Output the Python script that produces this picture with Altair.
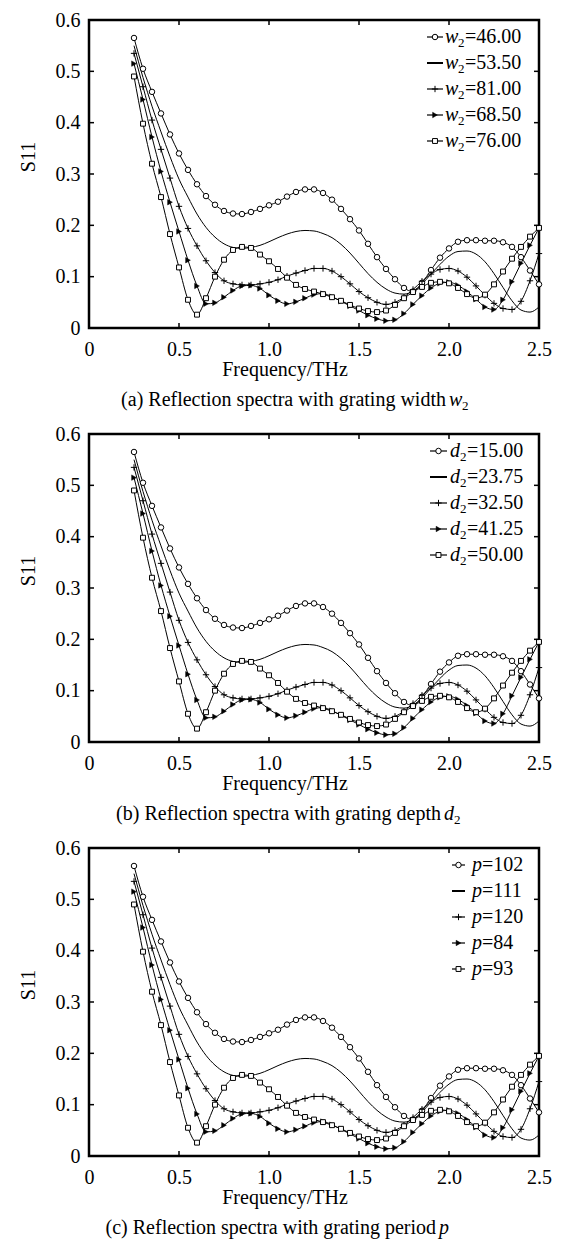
import altair as alt
import pandas as pd

# ---------------- data ----------------
freq = [0.25, 0.30, 0.35, 0.40, 0.45, 0.50, 0.55, 0.60, 0.65, 0.70,
        0.75, 0.80, 0.85, 0.90, 0.95, 1.00, 1.05, 1.10, 1.15, 1.20,
        1.25, 1.30, 1.35, 1.40, 1.45, 1.50, 1.55, 1.60, 1.65, 1.70,
        1.75, 1.80, 1.85, 1.90, 1.95, 2.00, 2.05, 2.10, 2.15, 2.20,
        2.25, 2.30, 2.35, 2.40, 2.45, 2.50]

s_circle = [0.565, 0.505, 0.460, 0.418, 0.377, 0.340, 0.308, 0.280, 0.257, 0.240,
            0.228, 0.223, 0.222, 0.226, 0.232, 0.239, 0.246, 0.256, 0.265, 0.270,
            0.270, 0.263, 0.250, 0.232, 0.212, 0.190, 0.164, 0.138, 0.115, 0.095,
            0.078, 0.071, 0.088, 0.113, 0.137, 0.155, 0.168, 0.171, 0.171, 0.170,
            0.170, 0.167, 0.158, 0.138, 0.112, 0.085]
s_plain = [0.550, 0.488, 0.432, 0.382, 0.334, 0.290, 0.255, 0.222, 0.196, 0.177,
           0.164, 0.157, 0.155, 0.157, 0.161, 0.168, 0.176, 0.183, 0.188, 0.190,
           0.189, 0.184, 0.176, 0.163, 0.146, 0.126, 0.106, 0.089, 0.076, 0.068,
           0.066, 0.072, 0.086, 0.105, 0.124, 0.140, 0.149, 0.150, 0.144, 0.129,
           0.106, 0.079, 0.053, 0.035, 0.031, 0.041]
s_plus = [0.535, 0.470, 0.405, 0.348, 0.292, 0.237, 0.194, 0.160, 0.131, 0.108,
          0.092, 0.086, 0.084, 0.084, 0.086, 0.089, 0.094, 0.101, 0.107, 0.112,
          0.116, 0.116, 0.111, 0.100, 0.086, 0.071, 0.059, 0.050, 0.046, 0.050,
          0.060, 0.075, 0.091, 0.105, 0.114, 0.116, 0.111, 0.099, 0.082, 0.064,
          0.048, 0.038, 0.036, 0.052, 0.092, 0.145]
s_tri = [0.515, 0.445, 0.372, 0.305, 0.245, 0.188, 0.132, 0.082, 0.047, 0.049,
         0.060, 0.073, 0.082, 0.083, 0.077, 0.064, 0.053, 0.047, 0.051, 0.058,
         0.065, 0.067, 0.061, 0.052, 0.043, 0.034, 0.025, 0.018, 0.014, 0.016,
         0.028, 0.046, 0.063, 0.078, 0.087, 0.089, 0.083, 0.071, 0.056, 0.041,
         0.036, 0.055, 0.090, 0.126, 0.161, 0.195]
s_square = [0.490, 0.398, 0.320, 0.255, 0.183, 0.118, 0.055, 0.026, 0.058, 0.100,
            0.133, 0.152, 0.158, 0.156, 0.143, 0.130, 0.115, 0.098, 0.084, 0.076,
            0.071, 0.066, 0.060, 0.053, 0.045, 0.038, 0.033, 0.031, 0.034, 0.045,
            0.058, 0.070, 0.080, 0.088, 0.090, 0.087, 0.078, 0.066, 0.058, 0.065,
            0.085, 0.110, 0.135, 0.158, 0.178, 0.195]

series_order = ["circle", "plain", "plus", "tri", "square"]
series_values = [s_circle, s_plain, s_plus, s_tri, s_square]

legend_a = ["=46.00", "=53.50", "=81.00", "=68.50", "=76.00"]
legend_b = ["=15.00", "=23.75", "=32.50", "=41.25", "=50.00"]
legend_c = ["=102", "=111", "=120", "=84", "=93"]

x_ticks = [0, 0.5, 1.0, 1.5, 2.0, 2.5]
y_ticks = [0, 0.1, 0.2, 0.3, 0.4, 0.5, 0.6]
x_inner = [0.5, 1.0, 1.5, 2.0]
y_inner = [0.1, 0.2, 0.3, 0.4, 0.5]

rows = []
for name, vals in zip(series_order, series_values):
    for f, v in zip(freq, vals):
        rows.append({"freq": f, "s11": v, "series": name})
df = pd.DataFrame(rows)

# ---------------- styling ----------------
W, H = 450, 308
FONT = "Liberation Serif"
FS = 20

MARKERS = {
    "circle": dict(shape="circle", size=30, filled=False, fill="white", stroke="black", strokeWidth=1),
    "plus": dict(shape="M-1,0L1,0M0,-1L0,1", size=40, filled=False, stroke="black", strokeWidth=1),
    "tri": dict(shape="triangle-right", size=30, filled=True, fill="black", stroke="black", strokeWidth=0.5),
    "square": dict(shape="square", size=24, filled=False, fill="white", stroke="black", strokeWidth=1),
}

xaxis = alt.Axis(values=x_ticks, labelExpr="datum.value == 0 ? '0' : format(datum.value, '.1f')",
                 title=None, ticks=False, domain=False, grid=False, labelFlush=False,
                 labelOverlap=False, labelPadding=11)
yaxis = alt.Axis(values=y_ticks, labelExpr="datum.value == 0 ? '0' : format(datum.value, '.1f')",
                 title=None, ticks=False, domain=False, grid=False, labelFlush=False,
                 labelOverlap=False, labelPadding=9)

one = pd.DataFrame({"k": [0]})


def txt(text, x, y, size=FS, style="normal", align="center", angle=0):
    return alt.Chart(pd.DataFrame({"t": [text]})).mark_text(
        font=FONT, fontSize=size, fontStyle=style, align=align, baseline="middle",
        angle=angle, color="black").encode(x=alt.value(x), y=alt.value(y), text="t:N")


def panel(legend_vals, var, sub, cap_prefix, cap_x, leg_x, sym_x0, sym_x1):
    base = alt.Chart(df).encode(
        x=alt.X("freq:Q", scale=alt.Scale(domain=[0, 2.5], nice=False, zero=False), axis=xaxis),
        y=alt.Y("s11:Q", scale=alt.Scale(domain=[0, 0.6], nice=False), axis=yaxis),
    )
    layers = [base.mark_line(color="black", strokeWidth=1, interpolate="monotone").encode(detail="series:N")]
    for name in series_order:
        if name in MARKERS:
            layers.append(base.transform_filter(alt.datum.series == name)
                          .mark_point(opacity=1, **MARKERS[name]))
    # inward ticks on all four sides
    xt = pd.DataFrame({"freq": x_inner})
    yt = pd.DataFrame({"s11": y_inner})
    layers.append(alt.Chart(xt).mark_rule(color="black", strokeWidth=1.5)
                  .encode(x="freq:Q", y=alt.value(H), y2=alt.value(H - 5)))
    layers.append(alt.Chart(xt).mark_rule(color="black", strokeWidth=1.5)
                  .encode(x="freq:Q", y=alt.value(0), y2=alt.value(5)))
    layers.append(alt.Chart(yt).mark_rule(color="black", strokeWidth=1.5)
                  .encode(y="s11:Q", x=alt.value(0), x2=alt.value(5)))
    layers.append(alt.Chart(yt).mark_rule(color="black", strokeWidth=1.5)
                  .encode(y="s11:Q", x=alt.value(W), x2=alt.value(W - 5)))
    # legend
    for i, (name, val) in enumerate(zip(series_order, legend_vals)):
        ly = 17 + 26 * i
        layers.append(alt.Chart(one).mark_rule(color="black", strokeWidth=1.2 if name != "plain" else 2)
                      .encode(x=alt.value(sym_x0), x2=alt.value(sym_x1), y=alt.value(ly)))
        if name in MARKERS:
            layers.append(alt.Chart(one).mark_point(opacity=1, **MARKERS[name])
                          .encode(x=alt.value((sym_x0 + sym_x1) / 2), y=alt.value(ly)))
        layers.append(txt(var, leg_x, ly, style="italic", align="left"))
        vx = leg_x + (13 if var == "w" else 10)
        if sub:
            layers.append(txt(sub, vx, ly + 6, size=13, align="left"))
            vx += 7
        layers.append(txt(val, vx, ly, align="left"))
    # axis title, y title and caption
    layers.append(txt("Frequency/THz", 196, H + 42))
    layers.append(txt("S11", -60, 137, angle=270))
    layers.append(txt(cap_prefix, cap_x - 3, H + 72, align="right"))
    layers.append(txt(var, cap_x, H + 72, style="italic", align="left"))
    if sub:
        layers.append(txt(sub, cap_x + (13 if var == "w" else 10), H + 78, size=13, align="left"))
    return alt.layer(*layers).properties(width=W, height=H)


pa = panel(legend_a, "w", "2", "(a) Reflection spectra with grating width", 360, 356, 338, 354)
pb = panel(legend_b, "d", "2", "(b) Reflection spectra with grating depth", 355, 361, 341, 358)
pc = panel(legend_c, "p", "", "(c) Reflection spectra with grating period", 350, 383, 363, 376)

chart = (alt.vconcat(pa, pb, pc, spacing=106, bounds="flush")
         .properties(padding={"left": 9, "top": 0, "right": 5, "bottom": 0})
         .configure_view(stroke="black", strokeWidth=2.5)
         .configure_axis(labelFont=FONT, labelFontSize=FS, labelColor="black")
         .configure_text(font=FONT))

chart.save("out.html", embed_options={"renderer": "svg", "actions": False})
